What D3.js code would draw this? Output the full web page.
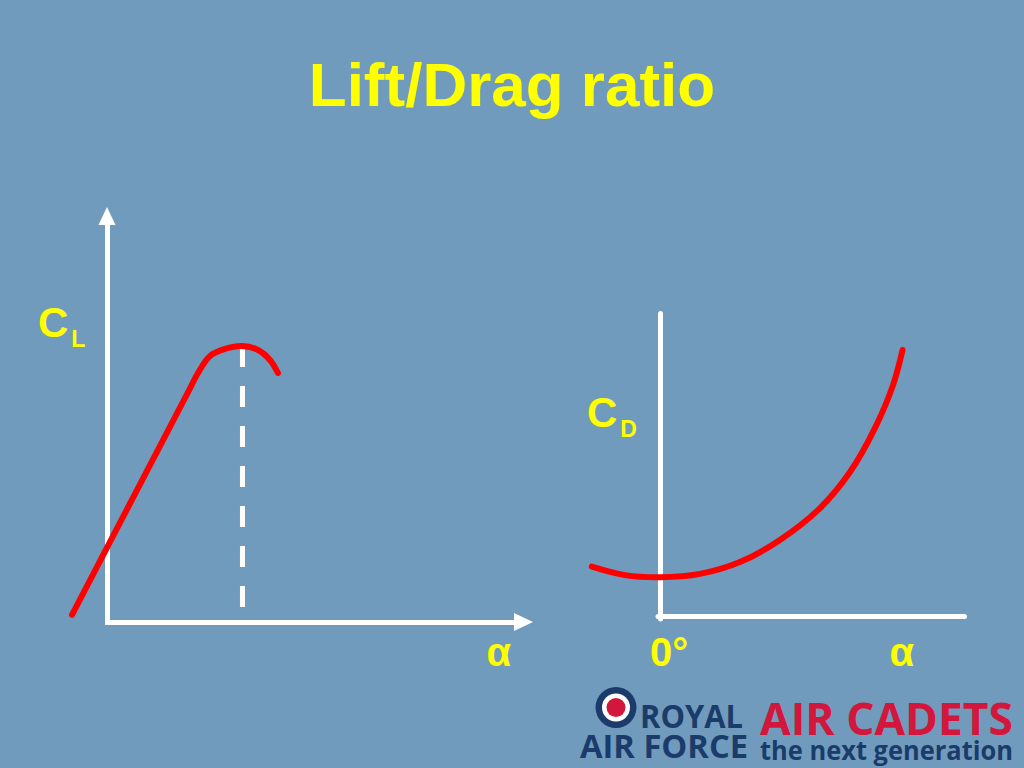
<!DOCTYPE html>
<html>
<head>
<meta charset="utf-8">
<script src="https://cdn.jsdelivr.net/npm/d3@7"></script>
<style>
  html, body { margin: 0; padding: 0; background: #709bbc; }
  svg { display: block; }
</style>
</head>
<body>
<svg id="chart" width="1024" height="768"></svg>
<script>
// ---- Data ----
const title = "Lift/Drag ratio";
// Lift curve: angle of attack (deg) vs C_L
const clAlpha = [-1.643, 2.019, 3.897, 4.272, 4.836, 5.540, 6.338, 7.089, 7.653, 8.028];
const clValues = [0.034, 0.756, 1.126, 1.200, 1.282, 1.316, 1.330, 1.311, 1.263, 1.200];
const stallAlpha = [6.36];
// Drag curve: angle of attack (deg) vs C_D
const cdAlpha = [-4.49, -2.30, 0, 2.63, 5.26, 7.89, 10.53, 12.50, 14.14, 15.33, 15.96];
const cdValues = [0.163, 0.135, 0.128, 0.139, 0.178, 0.251, 0.356, 0.475, 0.620, 0.762, 0.878];
const xLabels = ["α", "0°", "α"];

const BG = "#709bbc", YEL = "#ffff00", RED = "#ff0000", WHITE = "#ffffff";
const NAVY = "#1b3b6a", LOGORED = "#d3173c";
const FONT = "'Liberation Sans', Arial, sans-serif";

const svg = d3.select("#chart");
svg.append("rect").attr("width", 1024).attr("height", 768).attr("fill", BG);

// Title
svg.append("text").attr("x", 512).attr("y", 106).attr("text-anchor", "middle")
  .attr("font-family", FONT).attr("font-weight", "bold").attr("font-size", 62)
  .attr("fill", YEL).text(title);

// ---- Left chart (C_L) ----
const xL = d3.scaleLinear().domain([0, 20]).range([107, 533]);
const yL = d3.scaleLinear().domain([0, 2]).range([622, 207]);

const gL = svg.append("g");
gL.append("g").attr("transform", `translate(0,${yL(0)})`)
  .call(d3.axisBottom(d3.scaleLinear().domain([0, 1]).range([xL(0) - 2.5, 515])).ticks(0).tickSizeOuter(0))
  .call(g => g.select(".domain").attr("stroke", WHITE).attr("stroke-width", 5));
gL.append("g").attr("transform", `translate(${xL(0)},0)`)
  .call(d3.axisLeft(d3.scaleLinear().domain([0, 1]).range([yL(0) + 2.5, 224])).ticks(0).tickSizeOuter(0))
  .call(g => g.select(".domain").attr("stroke", WHITE).attr("stroke-width", 5));
// arrowheads
gL.append("path").attr("fill", WHITE)
  .attr("d", `M${xL(0)},207 L${xL(0) + 8.5},225 L${xL(0) - 8.5},225 Z`);
gL.append("path").attr("fill", WHITE)
  .attr("d", `M533,${yL(0)} L514,${yL(0) - 9} L514,${yL(0) + 9} Z`);

// stall dashed line
const peakCL = d3.max(clValues);
gL.selectAll("line.stall").data(stallAlpha).join("line")
  .attr("class", "stall")
  .attr("x1", d => xL(d)).attr("x2", d => xL(d))
  .attr("y1", yL(peakCL)).attr("y2", 607)
  .attr("stroke", WHITE).attr("stroke-width", 5)
  .attr("stroke-dasharray", "21,19");

// lift curve
const clData = clAlpha.map((a, i) => [a, clValues[i]]);
gL.append("path").datum(clData)
  .attr("fill", "none").attr("stroke", RED).attr("stroke-width", 6)
  .attr("stroke-linecap", "round").attr("stroke-linejoin", "round")
  .attr("d", d3.line().x(d => xL(d[0])).y(d => yL(d[1])).curve(d3.curveCatmullRom.alpha(0.5)));

// C_L label
const clLab = svg.append("text").attr("x", 38).attr("y", 337)
  .attr("font-family", FONT).attr("font-weight", "bold").attr("fill", YEL);
clLab.append("tspan").attr("font-size", 42).text("C");
clLab.append("tspan").attr("font-size", 23).attr("dx", 3).attr("dy", 10).text("L");

// ---- Right chart (C_D) ----
const xR = d3.scaleLinear().domain([0, 20]).range([660, 964]);
const yR = d3.scaleLinear().domain([0, 1]).range([616, 313]);
const gR = svg.append("g");
gR.append("g").attr("transform", `translate(0,${yR(0)})`)
  .call(d3.axisBottom(d3.scaleLinear().domain([0, 1]).range([xR(0) - 2.5, xR(20)])).ticks(0).tickSizeOuter(0))
  .call(g => g.select(".domain").attr("stroke", WHITE).attr("stroke-width", 5).attr("stroke-linecap", "round"));
gR.append("g").attr("transform", `translate(${xR(0)},0)`)
  .call(d3.axisLeft(d3.scaleLinear().domain([0, 1]).range([yR(0) + 2.5, yR(1)])).ticks(0).tickSizeOuter(0))
  .call(g => g.select(".domain").attr("stroke", WHITE).attr("stroke-width", 5).attr("stroke-linecap", "round"));

const cdData = cdAlpha.map((a, i) => [a, cdValues[i]]);
gR.append("path").datum(cdData)
  .attr("fill", "none").attr("stroke", RED).attr("stroke-width", 6)
  .attr("stroke-linecap", "round").attr("stroke-linejoin", "round")
  .attr("d", d3.line().x(d => xR(d[0])).y(d => yR(d[1])).curve(d3.curveCatmullRom.alpha(0.5)));

const cdLab = svg.append("text").attr("x", 587).attr("y", 427)
  .attr("font-family", FONT).attr("font-weight", "bold").attr("fill", YEL);
cdLab.append("tspan").attr("font-size", 42).text("C");
cdLab.append("tspan").attr("font-size", 23).attr("dx", 3).attr("dy", 10).text("D");

// x labels
const labelPos = [xL(18.4), xR(0.6), xR(15.9)];
svg.selectAll("text.xlab").data(xLabels).join("text")
  .attr("class", "xlab")
  .attr("x", (d, i) => labelPos[i]).attr("y", 666)
  .attr("text-anchor", "middle")
  .attr("font-family", FONT).attr("font-weight", "bold").attr("font-size", 40)
  .attr("fill", YEL).text(d => d);

// ---- Logo ----
const logo = svg.append("g");
logo.append("circle").attr("cx", 616).attr("cy", 707.5).attr("r", 20.5).attr("fill", NAVY);
logo.append("circle").attr("cx", 616).attr("cy", 707.5).attr("r", 14).attr("fill", WHITE);
logo.append("circle").attr("cx", 616).attr("cy", 707.5).attr("r", 9.5).attr("fill", LOGORED);
const LF = "'Open Sans', 'Liberation Sans', sans-serif";
logo.append("text").attr("x", 640).attr("y", 728).attr("font-family", LF).attr("font-weight", "bold")
  .attr("font-size", 32).attr("fill", NAVY).attr("textLength", 103).attr("lengthAdjust", "spacingAndGlyphs").text("ROYAL");
logo.append("text").attr("x", 580).attr("y", 758).attr("font-family", LF).attr("font-weight", "bold")
  .attr("font-size", 33).attr("fill", NAVY).attr("textLength", 168).attr("lengthAdjust", "spacingAndGlyphs").text("AIR FORCE");
logo.append("text").attr("x", 760).attr("y", 735).attr("font-family", LF).attr("font-weight", "bold")
  .attr("font-size", 45).attr("fill", LOGORED).attr("textLength", 253).attr("lengthAdjust", "spacingAndGlyphs").text("AIR CADETS");
logo.append("text").attr("x", 760).attr("y", 760).attr("font-family", LF).attr("font-weight", "bold")
  .attr("font-size", 27).attr("fill", NAVY).attr("textLength", 253).attr("lengthAdjust", "spacingAndGlyphs").text("the next generation");
</script>
</body>
</html>
